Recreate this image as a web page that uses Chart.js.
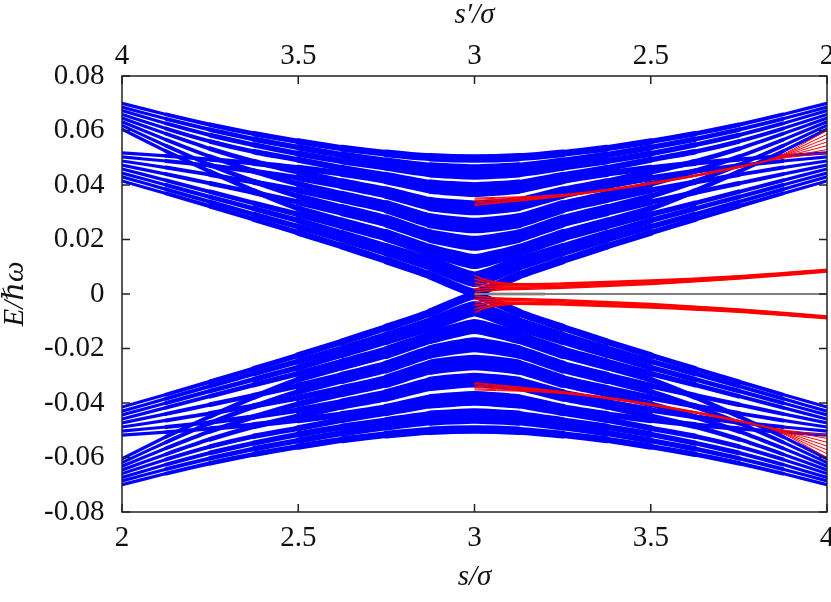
<!DOCTYPE html>
<html>
<head>
<meta charset="utf-8">
<title>Spectrum vs s/σ</title>
<script src="https://cdn.jsdelivr.net/npm/chart.js@4.4.1/dist/chart.umd.min.js"></script>
<style>
  html, body { margin: 0; padding: 0; background: #fff; }
  #wrap { width: 831px; height: 602px; }
</style>
</head>
<body>
<div id="wrap"><canvas id="chart" width="831" height="602"></canvas></div>
<script>
// Energy levels E/ħω against s/σ (bottom) and s'/σ (top, reversed)

// ---------- data ----------
const S_GRID = [2, 2.125, 2.25, 2.375, 2.5, 2.625, 2.75, 2.875, 3, 3.125, 3.25, 3.375, 3.5, 3.625, 3.75, 3.875, 4];

// upper blue levels, group that starts high at the edges
const UPPER_A = [
  [0.0700, 0.0659, 0.0621, 0.0588, 0.0560, 0.0535, 0.0516, 0.0502, 0.0497, 0.0502, 0.0516, 0.0535, 0.0560, 0.0588, 0.0621, 0.0659, 0.0700],
  [0.0686, 0.0643, 0.0603, 0.0568, 0.0538, 0.0510, 0.0487, 0.0468, 0.0461, 0.0468, 0.0487, 0.0510, 0.0538, 0.0568, 0.0603, 0.0643, 0.0686],
  [0.0673, 0.0626, 0.0583, 0.0547, 0.0515, 0.0488, 0.0466, 0.0443, 0.0435, 0.0443, 0.0466, 0.0488, 0.0515, 0.0547, 0.0583, 0.0626, 0.0673],
  [0.0659, 0.0607, 0.0560, 0.0522, 0.0493, 0.0461, 0.0434, 0.0405, 0.0395, 0.0405, 0.0434, 0.0461, 0.0493, 0.0522, 0.0560, 0.0607, 0.0659],
  [0.0646, 0.0588, 0.0533, 0.0486, 0.0448, 0.0412, 0.0381, 0.0341, 0.0328, 0.0341, 0.0381, 0.0412, 0.0448, 0.0486, 0.0533, 0.0588, 0.0646],
  [0.0632, 0.0566, 0.0504, 0.0451, 0.0404, 0.0366, 0.0330, 0.0281, 0.0264, 0.0281, 0.0330, 0.0366, 0.0404, 0.0451, 0.0504, 0.0566, 0.0632],
  [0.0619, 0.0544, 0.0474, 0.0413, 0.0359, 0.0317, 0.0277, 0.0222, 0.0198, 0.0222, 0.0277, 0.0317, 0.0359, 0.0413, 0.0474, 0.0544, 0.0619],
  [0.0605, 0.0524, 0.0449, 0.0378, 0.0314, 0.0268, 0.0224, 0.0168, 0.0131, 0.0168, 0.0224, 0.0268, 0.0314, 0.0378, 0.0449, 0.0524, 0.0605]
];

// upper blue levels, group that starts lower at the edges
const UPPER_B = [
  [0.0518, 0.0507, 0.0494, 0.0480, 0.0463, 0.0442, 0.0417, 0.0383, 0.0371, 0.0383, 0.0417, 0.0442, 0.0463, 0.0480, 0.0494, 0.0507, 0.0518],
  [0.0503, 0.0488, 0.0471, 0.0450, 0.0426, 0.0396, 0.0363, 0.0319, 0.0304, 0.0319, 0.0363, 0.0396, 0.0426, 0.0450, 0.0471, 0.0488, 0.0503],
  [0.0488, 0.0464, 0.0438, 0.0410, 0.0381, 0.0346, 0.0310, 0.0256, 0.0238, 0.0256, 0.0310, 0.0346, 0.0381, 0.0410, 0.0438, 0.0464, 0.0488],
  [0.0473, 0.0440, 0.0406, 0.0372, 0.0337, 0.0298, 0.0258, 0.0203, 0.0174, 0.0203, 0.0258, 0.0298, 0.0337, 0.0372, 0.0406, 0.0440, 0.0473],
  [0.0459, 0.0417, 0.0375, 0.0333, 0.0292, 0.0249, 0.0205, 0.0151, 0.0107, 0.0151, 0.0205, 0.0249, 0.0292, 0.0333, 0.0375, 0.0417, 0.0459],
  [0.0444, 0.0400, 0.0356, 0.0313, 0.0270, 0.0222, 0.0173, 0.0123, 0.0067, 0.0123, 0.0173, 0.0222, 0.0270, 0.0313, 0.0356, 0.0400, 0.0444],
  [0.0430, 0.0384, 0.0338, 0.0292, 0.0247, 0.0200, 0.0152, 0.0100, 0.0041, 0.0100, 0.0152, 0.0200, 0.0247, 0.0292, 0.0338, 0.0384, 0.0430],
  [0.0415, 0.0369, 0.0322, 0.0274, 0.0225, 0.0175, 0.0123, 0.0068, 0.0005, 0.0068, 0.0123, 0.0175, 0.0225, 0.0274, 0.0322, 0.0369, 0.0415]
];

// lower blue levels (band below zero)
const LOWER_A = [
  [-0.0700, -0.0659, -0.0621, -0.0588, -0.0560, -0.0535, -0.0516, -0.0502, -0.0497, -0.0502, -0.0516, -0.0535, -0.0560, -0.0588, -0.0621, -0.0659, -0.0700],
  [-0.0686, -0.0643, -0.0603, -0.0568, -0.0538, -0.0510, -0.0487, -0.0468, -0.0461, -0.0468, -0.0487, -0.0510, -0.0538, -0.0568, -0.0603, -0.0643, -0.0686],
  [-0.0673, -0.0626, -0.0583, -0.0547, -0.0515, -0.0488, -0.0466, -0.0443, -0.0435, -0.0443, -0.0466, -0.0488, -0.0515, -0.0547, -0.0583, -0.0626, -0.0673],
  [-0.0659, -0.0607, -0.0560, -0.0522, -0.0493, -0.0461, -0.0434, -0.0405, -0.0395, -0.0405, -0.0434, -0.0461, -0.0493, -0.0522, -0.0560, -0.0607, -0.0659],
  [-0.0646, -0.0588, -0.0533, -0.0486, -0.0448, -0.0412, -0.0381, -0.0341, -0.0328, -0.0341, -0.0381, -0.0412, -0.0448, -0.0486, -0.0533, -0.0588, -0.0646],
  [-0.0632, -0.0566, -0.0504, -0.0451, -0.0404, -0.0366, -0.0330, -0.0281, -0.0264, -0.0281, -0.0330, -0.0366, -0.0404, -0.0451, -0.0504, -0.0566, -0.0632],
  [-0.0619, -0.0544, -0.0474, -0.0413, -0.0359, -0.0317, -0.0277, -0.0222, -0.0198, -0.0222, -0.0277, -0.0317, -0.0359, -0.0413, -0.0474, -0.0544, -0.0619],
  [-0.0605, -0.0524, -0.0449, -0.0378, -0.0314, -0.0268, -0.0224, -0.0168, -0.0131, -0.0168, -0.0224, -0.0268, -0.0314, -0.0378, -0.0449, -0.0524, -0.0605]
];

const LOWER_B = [
  [-0.0518, -0.0507, -0.0494, -0.0480, -0.0463, -0.0442, -0.0417, -0.0383, -0.0371, -0.0383, -0.0417, -0.0442, -0.0463, -0.0480, -0.0494, -0.0507, -0.0518],
  [-0.0503, -0.0488, -0.0471, -0.0450, -0.0426, -0.0396, -0.0363, -0.0319, -0.0304, -0.0319, -0.0363, -0.0396, -0.0426, -0.0450, -0.0471, -0.0488, -0.0503],
  [-0.0488, -0.0464, -0.0438, -0.0410, -0.0381, -0.0346, -0.0310, -0.0256, -0.0238, -0.0256, -0.0310, -0.0346, -0.0381, -0.0410, -0.0438, -0.0464, -0.0488],
  [-0.0473, -0.0440, -0.0406, -0.0372, -0.0337, -0.0298, -0.0258, -0.0203, -0.0174, -0.0203, -0.0258, -0.0298, -0.0337, -0.0372, -0.0406, -0.0440, -0.0473],
  [-0.0459, -0.0417, -0.0375, -0.0333, -0.0292, -0.0249, -0.0205, -0.0151, -0.0107, -0.0151, -0.0205, -0.0249, -0.0292, -0.0333, -0.0375, -0.0417, -0.0459],
  [-0.0444, -0.0400, -0.0356, -0.0313, -0.0270, -0.0222, -0.0173, -0.0123, -0.0067, -0.0123, -0.0173, -0.0222, -0.0270, -0.0313, -0.0356, -0.0400, -0.0444],
  [-0.0430, -0.0384, -0.0338, -0.0292, -0.0247, -0.0200, -0.0152, -0.0100, -0.0041, -0.0100, -0.0152, -0.0200, -0.0247, -0.0292, -0.0338, -0.0384, -0.0430],
  [-0.0415, -0.0369, -0.0322, -0.0274, -0.0225, -0.0175, -0.0123, -0.0068, -0.0005, -0.0068, -0.0123, -0.0175, -0.0225, -0.0274, -0.0322, -0.0369, -0.0415]
];

// red levels near zero (fan at s = 3, then two thin bands)
const RED_S = [3, 3.03, 3.07, 3.125, 3.25, 3.5, 3.75, 4];
const RED_NEAR_UP = [
  [0.0068, 0.0052, 0.0042, 0.0037, 0.0040, 0.0051, 0.0067, 0.0091],
  [0.0055, 0.0045, 0.0038, 0.0034, 0.0037, 0.0048, 0.0065, 0.0089],
  [0.0042, 0.0036, 0.0032, 0.0030, 0.0033, 0.0045, 0.0062, 0.0087],
  [0.0030, 0.0028, 0.0026, 0.0025, 0.0029, 0.0041, 0.0059, 0.0085],
  [0.0018, 0.0020, 0.0021, 0.0021, 0.0025, 0.0038, 0.0057, 0.0083],
  [0.0006, 0.0011, 0.0015, 0.0017, 0.0021, 0.0035, 0.0055, 0.0081]
];
const RED_NEAR_DOWN = [
  [-0.0068, -0.0052, -0.0042, -0.0037, -0.0040, -0.0051, -0.0067, -0.0091],
  [-0.0055, -0.0045, -0.0038, -0.0034, -0.0037, -0.0048, -0.0065, -0.0089],
  [-0.0042, -0.0036, -0.0032, -0.0030, -0.0033, -0.0045, -0.0062, -0.0087],
  [-0.0030, -0.0028, -0.0026, -0.0025, -0.0029, -0.0041, -0.0059, -0.0085],
  [-0.0018, -0.0020, -0.0021, -0.0021, -0.0025, -0.0038, -0.0057, -0.0083],
  [-0.0006, -0.0011, -0.0015, -0.0017, -0.0021, -0.0035, -0.0055, -0.0081]
];

// red levels crossing the blue bands
const RED_HIGH_S = [3, 3.25, 3.5, 3.75, 3.85, 4];
const RED_HIGH_UP = [
  [0.0352, 0.0365, 0.0409, 0.0469, 0.0499, 0.0600],
  [0.0348, 0.0364, 0.0408, 0.0468, 0.0498, 0.0586],
  [0.0343, 0.0362, 0.0407, 0.0467, 0.0497, 0.0572],
  [0.0338, 0.0361, 0.0406, 0.0466, 0.0496, 0.0558],
  [0.0333, 0.0360, 0.0405, 0.0465, 0.0495, 0.0544],
  [0.0328, 0.0359, 0.0404, 0.0464, 0.0494, 0.0530],
  [0.0325, 0.0358, 0.0403, 0.0463, 0.0493, 0.0518]
];
const RED_HIGH_DOWN = [
  [-0.0352, -0.0365, -0.0409, -0.0469, -0.0499, -0.0600],
  [-0.0348, -0.0364, -0.0408, -0.0468, -0.0498, -0.0586],
  [-0.0343, -0.0362, -0.0407, -0.0467, -0.0497, -0.0572],
  [-0.0338, -0.0361, -0.0406, -0.0466, -0.0496, -0.0558],
  [-0.0333, -0.0360, -0.0405, -0.0465, -0.0495, -0.0544],
  [-0.0328, -0.0359, -0.0404, -0.0464, -0.0494, -0.0530],
  [-0.0325, -0.0358, -0.0403, -0.0463, -0.0493, -0.0518]
];

// zero modes on the right half
const ZERO_S = [3, 4];
const ZERO_E = [0, 0];
const ZERO_DARK_S = [3, 3.2];
const ZERO_DARK_E = [0, 0];

// ticks
const S_TICKS = [2, 2.5, 3, 3.5, 4];
const S_TICK_LABELS = ["2", "2.5", "3", "3.5", "4"];
const SP_TICKS = [2, 2.5, 3, 3.5, 4];
const SP_TICK_LABELS = ["2", "2.5", "3", "3.5", "4"];
const E_TICKS = [-0.08, -0.06, -0.04, -0.02, 0, 0.02, 0.04, 0.06, 0.08];
const E_TICK_LABELS = ["-0.08", "-0.06", "-0.04", "-0.02", "0", "0.02", "0.04", "0.06", "0.08"];

// ---------- styling ----------
const BLUE = "#0000ff";
const RED = "#ff0000";
const INK = "#111111";
const SERIF = "'Liberation Serif', 'DejaVu Serif', serif";
const TICK_FONT = { family: SERIF, size: 29 };
const TITLE_FONT = { family: SERIF, size: 29, style: "italic", lineHeight: 1 };
const TICK_LEN = 8;

const toPoints = (xs, ys) => xs.map((x, i) => ({ x, y: ys[i] }));

// bands are thin at the edges and thick around s = 3
const bandWidth = (ctx) => {
  const xm = (ctx.p0.parsed.x + ctx.p1.parsed.x) / 2;
  return 2.8 + 6.0 * (1 - Math.abs(xm - 3));
};

const blueSet = (vals) => ({
  data: toPoints(S_GRID, vals),
  borderColor: BLUE, borderWidth: 3, tension: 0.15,
  borderCapStyle: "round", borderJoinStyle: "round",
  pointRadius: 0, clip: 0, order: 2,
  segment: { borderWidth: bandWidth }
});

const redSet = (xs, vals, width) => ({
  data: toPoints(xs, vals),
  borderColor: RED, borderWidth: width, cubicInterpolationMode: "monotone",
  pointRadius: 0, clip: 0, order: 1
});

const datasets = [
  ...UPPER_A.map(blueSet), ...UPPER_B.map(blueSet),
  ...LOWER_A.map(blueSet), ...LOWER_B.map(blueSet),
  ...RED_NEAR_UP.map(v => redSet(RED_S, v, 1.6)),
  ...RED_NEAR_DOWN.map(v => redSet(RED_S, v, 1.6)),
  ...RED_HIGH_UP.map(v => redSet(RED_HIGH_S, v, 1)),
  ...RED_HIGH_DOWN.map(v => redSet(RED_HIGH_S, v, 1)),
  { data: toPoints(ZERO_S, ZERO_E), borderColor: "#808080", borderWidth: 2, pointRadius: 0, clip: 0, order: 0 },
  { data: toPoints(ZERO_DARK_S, ZERO_DARK_E), borderColor: "rgba(0,0,0,0.75)", borderWidth: 2.5, pointRadius: 0, clip: 0, order: 0 }
];

// gnuplot-style frame with inward ticks on all four sides
const frameTicks = {
  id: "frameTicks",
  afterDraw(chart) {
    const { ctx, chartArea: a, scales } = chart;
    ctx.save();
    ctx.strokeStyle = "#222";
    ctx.lineWidth = 1.5;
    ctx.beginPath();
    S_TICKS.forEach(v => {
      const px = scales.x.getPixelForValue(v);
      ctx.moveTo(px, a.bottom); ctx.lineTo(px, a.bottom - TICK_LEN);
    });
    SP_TICKS.forEach(v => {
      const px = scales.x2.getPixelForValue(v);
      ctx.moveTo(px, a.top); ctx.lineTo(px, a.top + TICK_LEN);
    });
    E_TICKS.forEach(v => {
      const py = scales.y.getPixelForValue(v);
      ctx.moveTo(a.left, py); ctx.lineTo(a.left + TICK_LEN, py);
      ctx.moveTo(a.right, py); ctx.lineTo(a.right - TICK_LEN, py);
    });
    ctx.stroke();
    ctx.strokeRect(a.left, a.top, a.right - a.left, a.bottom - a.top);
    ctx.restore();
  }
};

const hAxis = (position, ticks, labels, pad, title, titlePad, height, reverse) => ({
  type: "linear", position, min: 2, max: 4, reverse,
  grid: { display: false, drawTicks: false }, border: { display: false },
  afterBuildTicks: s => { s.ticks = ticks.map(v => ({ value: v })); },
  ticks: { callback: (v, i) => labels[i], font: TICK_FONT, color: INK, padding: pad, maxRotation: 0, autoSkip: false },
  title: { display: true, text: title, font: TITLE_FONT, color: INK, padding: titlePad },
  afterFit: s => { s.height = height; s.paddingLeft = 0; s.paddingRight = 0; }
});

new Chart(document.getElementById("chart"), {
  type: "line",
  data: { datasets },
  options: {
    responsive: false,
    animation: false,
    events: [],
    layout: { padding: { right: 4 } },
    plugins: { legend: { display: false }, tooltip: { enabled: false } },
    scales: {
      x: hAxis("bottom", S_TICKS, S_TICK_LABELS, 8.5, "s/σ", { top: 0, bottom: 10 }, 90, false),
      x2: hAxis("top", SP_TICKS, SP_TICK_LABELS, 2.5, "s′/σ", { top: 1, bottom: 0 }, 76, true),
      y: {
        type: "linear", position: "left", min: -0.08, max: 0.08,
        grid: { display: false, drawTicks: false }, border: { display: false },
        afterBuildTicks: s => { s.ticks = E_TICKS.map(v => ({ value: v })); },
        ticks: { callback: (v, i) => E_TICK_LABELS[i], font: TICK_FONT, color: INK, padding: 17.5, autoSkip: false },
        title: { display: true, text: "E/ℏω", font: TITLE_FONT, color: INK, padding: { top: 1, bottom: 0 } },
        afterFit: s => { s.width = 122; }
      }
    }
  },
  plugins: [frameTicks]
});
</script>
</body>
</html>
